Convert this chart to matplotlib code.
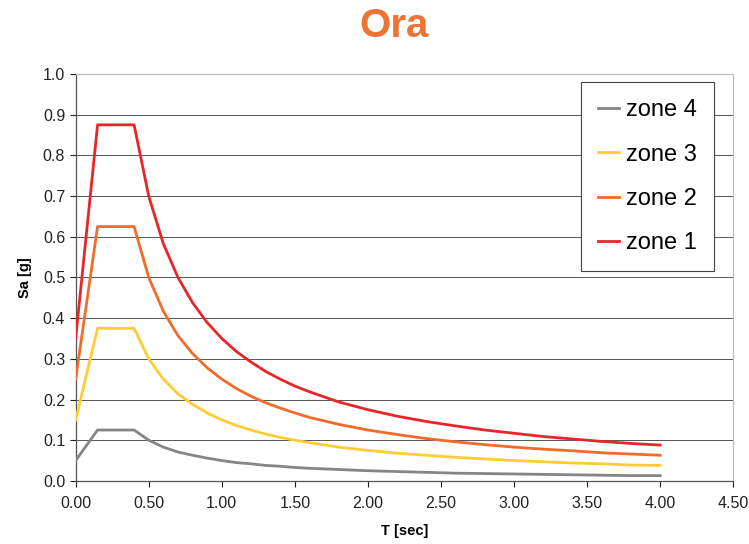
import numpy as np
import matplotlib.pyplot as plt

# period values [sec]
T = [0.0, 0.15, 0.4, 0.5, 0.6, 0.7, 0.8, 0.9, 1.0, 1.1, 1.2, 1.3, 1.4, 1.5, 1.6,
     1.8, 2.0, 2.2, 2.4, 2.6, 2.8, 3.0, 3.2, 3.4, 3.6, 3.8, 4.0]

# spectral acceleration [g]
zone4 = [0.05, 0.125, 0.125, 0.100, 0.083, 0.071, 0.063, 0.056, 0.050, 0.045, 0.042,
         0.038, 0.036, 0.033, 0.031, 0.028, 0.025, 0.023, 0.021, 0.019, 0.018, 0.017,
         0.016, 0.015, 0.014, 0.013, 0.013]
zone3 = [0.15, 0.375, 0.375, 0.300, 0.250, 0.214, 0.188, 0.167, 0.150, 0.136, 0.125,
         0.115, 0.107, 0.100, 0.094, 0.083, 0.075, 0.068, 0.063, 0.058, 0.054, 0.050,
         0.047, 0.044, 0.042, 0.039, 0.038]
zone2 = [0.25, 0.625, 0.625, 0.500, 0.417, 0.357, 0.313, 0.278, 0.250, 0.227, 0.208,
         0.192, 0.179, 0.167, 0.156, 0.139, 0.125, 0.114, 0.104, 0.096, 0.089, 0.083,
         0.078, 0.074, 0.069, 0.066, 0.063]
zone1 = [0.35, 0.875, 0.875, 0.700, 0.583, 0.500, 0.438, 0.389, 0.350, 0.318, 0.292,
         0.269, 0.250, 0.233, 0.219, 0.194, 0.175, 0.159, 0.146, 0.135, 0.125, 0.117,
         0.109, 0.103, 0.097, 0.092, 0.088]

labels = ['zone 4', 'zone 3', 'zone 2', 'zone 1']
colors = ['#858585', '#FFCC33', '#F26B2A', '#E8262A']
xticks = np.arange(0, 4.51, 0.5)
yticks = np.arange(0, 1.01, 0.1)

plt.rcParams['font.family'] = ['Liberation Sans', 'DejaVu Sans']

fig = plt.figure(figsize=(7.49, 5.44), dpi=100)
ax = fig.add_axes([0.101, 0.116, 0.878, 0.748])

for y, lab, c in zip([zone4, zone3, zone2, zone1], labels, colors):
    ax.plot(T, y, color=c, lw=2.0, label=lab, zorder=3)

ax.set_xlim(0, 4.5)
ax.set_ylim(0, 1.0)
ax.set_xticks(xticks)
ax.set_xticklabels(['%.2f' % v for v in xticks])
ax.set_yticks(yticks)
ax.set_yticklabels(['%.1f' % v for v in yticks])
ax.tick_params(labelsize=11.5, colors='#222222', length=4, width=0.8)
ax.tick_params(axis='x', pad=7)

ax.yaxis.grid(True, color='#555555', lw=0.7)
ax.set_axisbelow(True)
for s in ['top', 'right']:
    ax.spines[s].set_color('#bbbbbb')
    ax.spines[s].set_linewidth(0.8)
for s in ['left', 'bottom']:
    ax.spines[s].set_color('#555555')
    ax.spines[s].set_linewidth(0.9)

ax.set_xlabel('T [sec]', fontsize=10.5, fontweight='bold', labelpad=9)
ax.set_ylabel('Sa [g]', fontsize=10.5, fontweight='bold', labelpad=8)

leg = ax.legend(loc='upper right', bbox_to_anchor=(0.971, 0.980), borderaxespad=0,
                fontsize=17, handlelength=0.9, handletextpad=0.3,
                labelspacing=0.95, borderpad=0.72, fancybox=False, framealpha=1)
leg.get_frame().set_edgecolor('#444444')
leg.get_frame().set_linewidth(0.8)

fig.text(0.526, 0.953, 'Ora', ha='center', va='center', fontsize=29,
         fontweight='bold', color='#EC7535')

fig.savefig('out.png', dpi=100)
